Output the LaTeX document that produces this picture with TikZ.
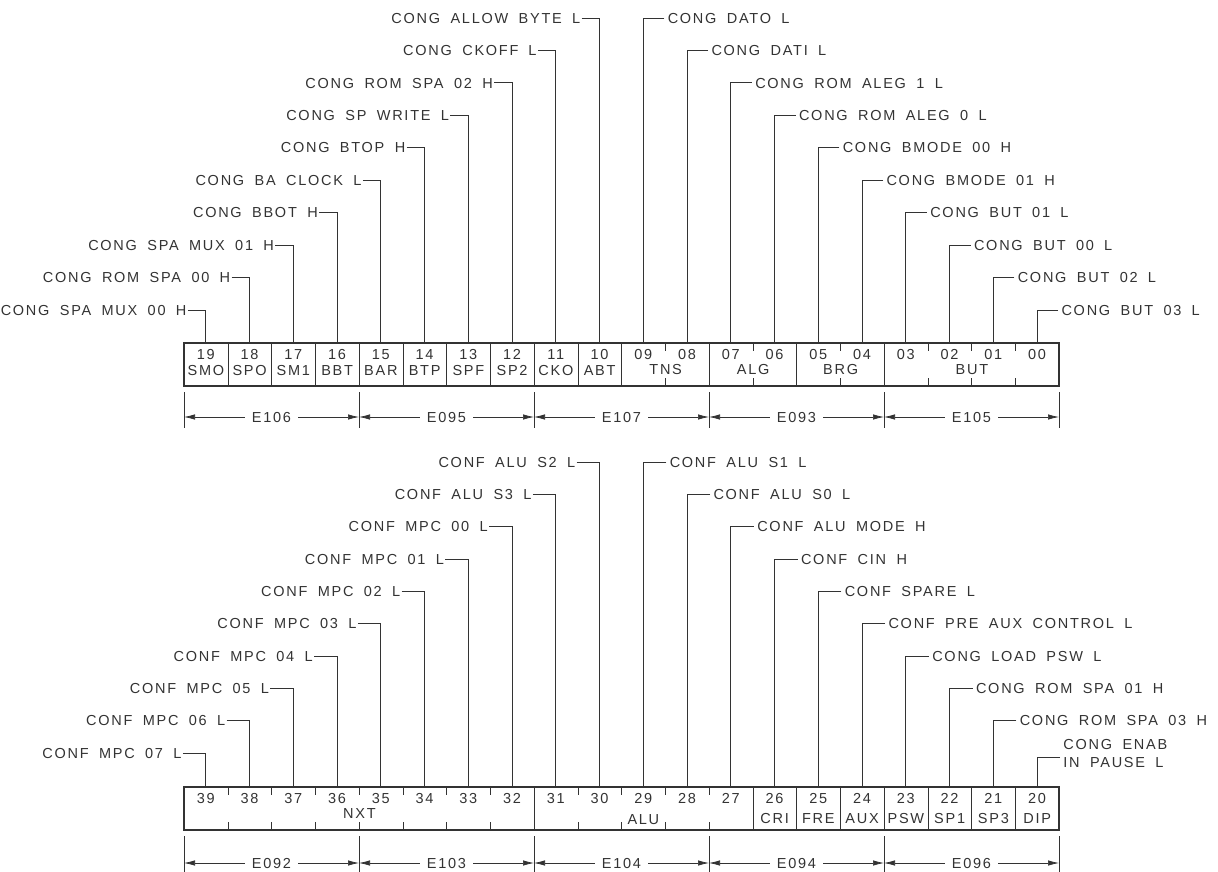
\documentclass[tikz,border=0pt]{standalone}
\usepackage{fontspec}
\setmainfont{Liberation Sans}[LetterSpace=12,WordSpace=1.8]
\usetikzlibrary{arrows.meta}
\definecolor{ink}{gray}{0.2}
\newcommand\twod[1]{\ifnum#1<10 0\fi#1}
\begin{document}
\begin{tikzpicture}[x=1pt,y=-1pt, line width=0.8pt, color=ink,
  every node/.style={font=\fontsize{14.5}{17}\selectfont, inner sep=0pt},
  lab/.style={text height=10.4pt, text depth=0pt},
  cellbox/.style={minimum width=43.75pt, minimum height=43pt},
  regbox/.style={draw, line width=2.2pt, minimum width=875pt, minimum height=43pt},
  wire/.style={line width=0.8pt},
  tickmark/.style={line width=0.9pt},
  divider/.style={line width=1pt},
  extline/.style={line width=0.8pt},
  dimline/.style={{Latex[length=11pt,width=5.5pt]}-{Latex[length=11pt,width=5.5pt]}, line width=0.7pt},
  dimlab/.style={fill=white, inner xsep=7pt, inner ysep=2pt, text height=10.4pt, text depth=0pt}
]
\useasboundingbox[fill=white] (0,0) rectangle (1218,872);

% ================= TOP REGISTER (bits 19..00) =================
\node[regbox] (topreg) at (621.5,364.5) {};
\foreach \b in {0,...,19} {
  \pgfmathsetmacro\cx{205.875+43.75*(19-\b)}
  \node[cellbox] (t\b) at (\cx,364.5) {};
  \node[lab] (tn\b) at (\cx,354) {\twod{\b}};
}
% full dividers
\foreach \b in {19,18,17,16,15,14,13,12,11,10,8,6,4}
  \draw[divider] (t\b.north east) -- (t\b.south east);
% ticks
\foreach \b in {9,7,5,3,2,1} {
  \draw[tickmark] (t\b.north east) -- ++(0,8);
  \draw[tickmark] (t\b.south east) -- ++(0,-8);
}
% field names
\foreach \b/\n in {19/SMO,18/SPO,17/SM1,16/BBT,15/BAR,14/BTP,13/SPF,12/SP2,11/CKO,10/ABT}
  \node[lab] (tf\b) at ([yshift=-5.5pt]t\b.center) {\n};
\node[lab] (tns) at ([yshift=-4.5pt]t9.east) {TNS};
\node[lab] (alg) at ([yshift=-4.5pt]t7.east) {ALG};
\node[lab] (brg) at ([yshift=-4.5pt]t5.east) {BRG};
\node[lab] (but) at ([yshift=-4.5pt]t2.east) {BUT};

% labels left (bits 10..19)
\foreach \b/\txt in {10/CONG ALLOW BYTE L,11/CONG CKOFF\hspace{10pt}L,12/CONG ROM SPA 02 H,
    13/CONG SP WRITE L,14/CONG BTOP H,15/CONG BA CLOCK L,16/CONG BBOT H,
    17/CONG SPA MUX 01 H,18/CONG ROM SPA 00 H,19/CONG SPA MUX 00 H} {
  \pgfmathsetmacro\cx{205.875+43.75*(19-\b)-19}
  \pgfmathsetmacro\cy{18+32.44*(\b-10)}
  \node[lab,anchor=east] (lt\b) at (\cx,\cy) {\txt};
  \draw[wire] ([xshift=1pt]lt\b.east) -| (t\b.north);
}
% labels right (bits 09..00)
\foreach \b/\txt in {9/CONG DATO L,8/CONG DATI L,7/CONG ROM ALEG 1 L,6/CONG ROM ALEG 0 L,
    5/CONG BMODE 00 H,4/CONG BMODE 01 H,3/CONG BUT 01 L,2/CONG BUT 00 L,
    1/CONG BUT 02 L,0/CONG BUT 03 L} {
  \pgfmathsetmacro\cx{205.875+43.75*(19-\b)+24}
  \pgfmathsetmacro\cy{18+32.44*(9-\b)}
  \node[lab,anchor=west] (rt\b) at (\cx,\cy) {\txt};
  \draw[wire] ([xshift=-3pt]rt\b.west) -| (t\b.north);
}
% dimension lines top
\foreach \k in {0,...,5} {
  \coordinate (ta\k) at ({184+175*\k},392);
  \coordinate (tz\k) at ({184+175*\k},428);
  \coordinate (td\k) at ({184+175*\k},417);
  \draw[extline] (ta\k) -- (tz\k);
}
\foreach \k/\e in {0/E106,1/E095,2/E107,3/E093,4/E105} {
  \pgfmathtruncatemacro\kk{\k+1}
  \draw[dimline] (td\k) -- node[dimlab] (te\k) {\e} (td\kk);
}

% ================= BOTTOM REGISTER (bits 39..20) =================
\node[regbox] (botreg) at (621.5,808.5) {};
\foreach \b in {20,...,39} {
  \pgfmathsetmacro\cx{205.875+43.75*(39-\b)}
  \node[cellbox] (b\b) at (\cx,808.5) {};
  \node[lab] (bn\b) at (\cx,798) {\b};
}
\foreach \b in {32,27,26,25,24,23,22,21}
  \draw[divider] (b\b.north east) -- (b\b.south east);
\foreach \b in {39,38,37,36,35,34,33,31,30,29,28} {
  \draw[tickmark] (b\b.north east) -- ++(0,8);
  \draw[tickmark] (b\b.south east) -- ++(0,-8);
}
\foreach \b/\n in {26/CRI,25/FRE,24/AUX,23/PSW,22/SP1,21/SP3,20/DIP}
  \node[lab] (bf\b) at ([yshift=-9.5pt]b\b.center) {\n};
\node[lab] (nxt) at ([yshift=-4.5pt]b36.east) {NXT};
\node[lab] (alu) at ([yshift=-10.5pt]b29.center) {ALU};

% labels left (bits 30..39)
\foreach \b/\txt in {30/CONF ALU S2 L,31/CONF ALU S3 L,32/CONF MPC 00 L,33/CONF MPC 01 L,
    34/CONF MPC 02 L,35/CONF MPC 03 L,36/CONF MPC 04 L,37/CONF MPC 05 L,
    38/CONF MPC 06 L,39/CONF MPC 07 L} {
  \pgfmathsetmacro\cx{205.875+43.75*(39-\b)-24}
  \pgfmathsetmacro\cy{462+32.33*(\b-30)}
  \node[lab,anchor=east] (lb\b) at (\cx,\cy) {\txt};
  \draw[wire] ([xshift=1pt]lb\b.east) -| (b\b.north);
}
% labels right (bits 29..21)
\foreach \b/\txt in {29/CONF ALU S1 L,28/CONF ALU S0 L,27/CONF ALU MODE H,26/CONF CIN H,
    25/CONF SPARE L,24/CONF PRE AUX CONTROL L,23/CONG LOAD PSW L,
    22/CONG ROM SPA 01 H,21/CONG ROM SPA 03 H} {
  \pgfmathsetmacro\cx{205.875+43.75*(39-\b)+26}
  \pgfmathsetmacro\cy{462+32.33*(29-\b)}
  \node[lab,anchor=west] (rb\b) at (\cx,\cy) {\txt};
  \draw[wire] ([xshift=-3pt]rb\b.west) -| (b\b.north);
}
% bit 20: two-line label
\node[lab,anchor=west] (enab1) at (1063,744) {CONG ENAB};
\node[lab,anchor=west] (enab2) at (1063,762) {IN PAUSE L};
\coordinate (enabhook) at ([xshift=-3pt,yshift=5pt]enab2.west);
\draw[wire] (enabhook) -| (b20.north);

% dimension lines bottom
\foreach \k in {0,...,5} {
  \coordinate (ba\k) at ({184+175*\k},836);
  \coordinate (bz\k) at ({184+175*\k},872);
  \coordinate (bd\k) at ({184+175*\k},863);
  \draw[extline] (ba\k) -- (bz\k);
}
\foreach \k/\e in {0/E092,1/E103,2/E104,3/E094,4/E096} {
  \pgfmathtruncatemacro\kk{\k+1}
  \draw[dimline] (bd\k) -- node[dimlab] (be\k) {\e} (bd\kk);
}
\end{tikzpicture}
\end{document}
